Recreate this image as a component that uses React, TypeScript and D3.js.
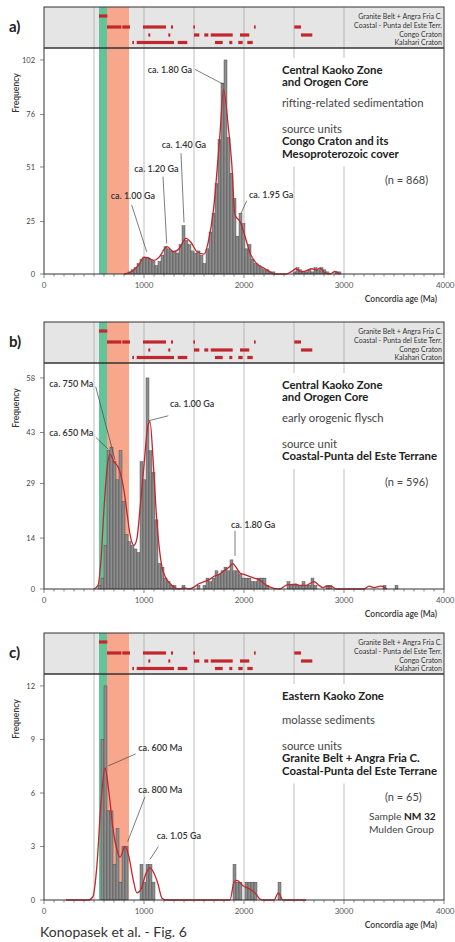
import * as d3 from "d3"

// ---- shared axis / header data ----
const BIN = 30
const ageTicks = [0, 1000, 2000, 3000, 4000]
const gridAges = [500, 1000, 1500, 2000, 2500, 3000]
const greenBand = [550, 630]
const salmonBand = [630, 850]

const unitNames = ["Granite Belt + Angra Fria C.", "Coastal - Punta del Este Terr.", "Congo Craton", "Kalahari Craton"]
const graniteAges = [[550, 633]]
const coastalAges = [[630, 773], [783, 860], [990, 1220], [1270, 1290], [1493, 1510], [2100, 2117], [2503, 2570]]
const congoAges = [[1043, 1063], [1243, 1263], [1500, 1553], [1603, 1643], [1667, 1887], [1960, 2053], [2570, 2683]]
const kalahariAges = [[883, 900], [927, 1300], [1337, 1433], [1710, 1787], [1853, 1883], [1943, 1987], [2033, 2087]]

// ---- panel a ----
const aTicks = [0, 25, 51, 76, 102]
const aStart = 840
const aCounts = [
  1, 2, 3, 5, 7, 8, 8, 7, 6, 4, 6, 9, 13, 12, 11, 11, 10, 14, 23, 16,
  14, 11, 10, 11, 9, 5, 12, 20, 29, 43, 64, 91, 102, 65, 48, 36, 18, 29, 24, 12,
  14, 7, 5, 4, 3, 2, 2, 1, 1, 0, 0, 0, 0, 0, 0, 1, 3, 2, 1, 1,
  2, 1, 3, 2, 3, 2, 1, 0, 0, 1, 1,
]
const aCurve = [
  [800, 0], [850, 0.5], [900, 2], [950, 4.5], [1000, 8], [1050, 7.5], [1100, 6.5], [1150, 8],
  [1230, 13], [1300, 10.5], [1350, 12], [1420, 17], [1470, 15], [1530, 10.6], [1600, 9.5],
  [1650, 17], [1693, 30], [1760, 67], [1795, 88], [1843, 70], [1877, 53], [1910, 28],
  [1960, 25], [2010, 18], [2060, 10], [2127, 5], [2193, 3], [2260, 1], [2310, 0],
  [2420, 0], [2470, 1], [2520, 2.5], [2570, 1], [2620, 1.5], [2680, 2.5], [2720, 2],
  [2760, 2.8], [2810, 0.5], [2860, 0], [2910, 1.2], [2960, 0],
]
const aNotes = [
  { text: "ca. 1.80 Ga", tx: 1037, ty: 96, a1: 1510, v1: 97.5, a2: 1790, v2: 90.5 },
  { text: "ca. 1.40 Ga", tx: 1177, ty: 60.2, a1: 1370, v1: 57.5, a2: 1400, v2: 24.5 },
  { text: "ca. 1.20 Ga", tx: 903, ty: 48.5, a1: 1190, v1: 46.4, a2: 1227, v2: 14.6 },
  { text: "ca. 1.00 Ga", tx: 667, ty: 35.7, a1: 877, v1: 32.9, a2: 1027, v2: 10.6 },
  { text: "ca. 1.95 Ga", tx: 2050, ty: 36.1, a1: 2027, v1: 34.9, a2: 1970, v2: 28.9 },
]

// ---- panel b ----
const bTicks = [0, 14, 29, 43, 58]
const bStart = 540
const bCounts = [
  1, 3, 12, 38, 39, 35, 30, 38, 24, 15, 13, 12, 11, 10, 35, 30, 58, 38, 32, 19,
  7, 6, 3, 2, 1, 1, 0, 0, 1, 0, 0, 0, 0, 1, 0, 1, 3, 2, 3, 5,
  4, 5, 6, 5, 8, 5, 5, 4, 3, 3, 3, 2, 2, 3, 3, 3, 1, 0, 0, 0,
  0, 0, 0, 2, 1, 1, 1, 1, 2, 1, 1, 3, 1, 0, 0, 0, 1, 1, 0, 0,
  0, 0, 0, 0, 0, 0, 0, 0, 0, 0, 0, 0, 0, 0, 0, 1, 0, 0, 0, 1,
]
const bCurve = [
  [500, 0], [540, 1], [570, 8], [600, 22], [630, 33], [660, 37], [700, 35], [750, 33],
  [800, 27], [830, 21], [860, 15], [900, 12], [930, 14], [960, 22], [1000, 34], [1040, 45],
  [1060, 46], [1090, 36], [1120, 22], [1150, 12], [1180, 6], [1220, 3], [1260, 1.5],
  [1300, 0.5], [1350, 0], [1400, 0.3], [1450, 0], [1500, 0.5], [1550, 1.5], [1600, 2],
  [1650, 2.5], [1700, 3.5], [1750, 4], [1800, 5], [1850, 6], [1890, 7], [1920, 6],
  [1960, 4.4], [2000, 4], [2060, 3.4], [2100, 3], [2160, 2.4], [2200, 1.5], [2240, 0.8],
  [2300, 0.2], [2360, 0], [2420, 1], [2460, 1.2], [2520, 1.3], [2560, 1], [2620, 1],
  [2660, 1.5], [2700, 2], [2750, 1], [2790, 0.4], [2830, 0.8], [2870, 0.8], [2920, 0],
  [3200, 0], [3250, 0.8], [3300, 0.4], [3370, 0.8], [3430, 0],
]
const bNotes = [
  { text: "ca. 750 Ma", tx: 53, ty: 55.4, a1: 517, v1: 55.6, a2: 710, v2: 35.5 },
  { text: "ca. 650 Ma", tx: 53, ty: 42.1, a1: 517, v1: 41.7, a2: 643, v2: 38.4 },
  { text: "ca. 1.00 Ga", tx: 1260, ty: 49.9, a1: 1243, v1: 47.6, a2: 1043, v2: 46.2 },
  { text: "ca. 1.80 Ga", tx: 1870, ty: 16.8, a1: 1910, v1: 16, a2: 1910, v2: 9.1 },
]

// ---- panel c ----
const cTicks = [0, 3, 6, 9, 12]
const cStart = 570
const cCounts = [
  9, 12, 5, 5, 2, 4, 1, 3, 3, 0, 0, 0, 0, 2, 1, 2, 2, 1, 0, 0,
  0, 0, 0, 0, 0, 0, 0, 0, 0, 0, 0, 0, 0, 0, 0, 0, 0, 0, 0, 0,
  0, 0, 0, 0, 2, 1, 1, 0, 1, 1, 1, 1, 0, 0, 0, 0, 0, 0, 0, 1,
]
const cCurve = [
  [220, 0], [450, 0], [490, 0.2], [530, 2], [570, 5.5], [610, 7.4], [650, 6], [690, 4],
  [730, 2.8], [760, 2.4], [810, 3], [850, 2.4], [890, 1.2], [930, 0.4], [970, 0.6],
  [1020, 1.5], [1060, 1.8], [1100, 1.5], [1140, 0.9], [1180, 0.1], [1220, 0], [1860, 0],
  [1900, 1], [1930, 1.1], [1990, 0.8], [2060, 0.6], [2110, 0.4], [2160, 0.05], [2200, 0],
  [2300, 0], [2343, 0.4], [2390, 0], [2620, 0],
]
const cNotes = [
  { text: "ca. 600 Ma", tx: 943, ty: 8.37, a1: 917, v1: 8.19, a2: 643, v2: 7.52 },
  { text: "ca. 800 Ma", tx: 943, ty: 6.02, a1: 1010, v1: 5.79, a2: 837, v2: 3.27 },
  { text: "ca. 1.05 Ga", tx: 1127, ty: 3.42, a1: 1143, v1: 2.99, a2: 1060, v2: 2.28 },
]

const FONT = "Lato, 'Open Sans', sans-serif"
const HEAD = 41
const PH = 267
const x = d3.scaleLinear().domain([0, 4000]).range([44, 444])

type Note = { text: string; tx: number; ty: number; a1: number; v1: number; a2: number; v2: number }

interface PanelProps {
  top: number
  letter: string
  yMax: number
  yTicks: number[]
  start: number
  counts: number[]
  curve: number[][]
  notes: Note[]
  title: string[]
  setting: string
  settingGap: number
  sourceLabel: string
  sources: string[]
  n: number
  extra?: boolean
}

function Panel(p: PanelProps) {
  const top = p.top
  const hb = top + HEAD
  const zero = top + PH
  const y = d3.scaleLinear().domain([0, p.yMax]).range([zero, hb])
  const line = d3
    .line<number[]>()
    .x((d) => x(d[0]))
    .y((d) => y(d[1]))
    .curve(d3.curveMonotoneX)
  const bars = p.counts.map((c, i) => ({ a: p.start + i * BIN, c })).filter((d) => d.c > 0)
  const rows = [graniteAges, coastalAges, congoAges, kalahariAges]
  const rowY = [9, 20, 28, 35.5]
  const labelY = [9.6, 18.6, 27.2, 35.8]

  // text block layout
  const t0 = hb + 26
  const titleY = p.title.map((_, i) => t0 + i * 12)
  const settingY = titleY[titleY.length - 1] + p.settingGap
  const srcLabelY = settingY + 25.5
  const srcY = p.sources.map((_, i) => srcLabelY + 12.5 + i * 12.5)
  const nY = srcY[srcY.length - 1] + 26

  return (
    <g>
      {/* header strip */}
      <rect x={x(0)} y={top} width={x(4000) - x(0)} height={HEAD} fill="#e5e5e5" />
      <rect x={x(greenBand[0])} y={top} width={x(greenBand[1]) - x(greenBand[0])} height={PH} fill="#63c49c" />
      <rect x={x(salmonBand[0])} y={top} width={x(salmonBand[1]) - x(salmonBand[0])} height={PH} fill="#f8a68c" />
      {gridAges.map((a) => (
        <line key={"h" + a} x1={x(a)} x2={x(a)} y1={top} y2={hb} stroke="#b8b8b8" strokeWidth={1} />
      ))}
      {gridAges.map((a) => (
        <line key={"g" + a} x1={x(a)} x2={x(a)} y1={hb} y2={zero} stroke="#d4d4d4" strokeWidth={1.5} />
      ))}
      {rows.map((r, i) =>
        r.map(([a0, a1]) => (
          <rect key={i + "-" + a0} x={x(a0)} y={top + rowY[i] - 1.6} width={x(a1) - x(a0)} height={3.2} fill="#c1272d" />
        )),
      )}
      {unitNames.map((name, i) => (
        <text key={name} x={442} y={top + labelY[i] + 2.4} textAnchor="end" fontSize={7} fill="#333">
          {name}
        </text>
      ))}

      {/* white box behind the description */}
      <rect x={279} y={t0 - 16} width={162} height={srcY[srcY.length - 1] + 9 - (t0 - 16)} fill="#fff" />

      {/* histogram */}
      {bars.map((d) => (
        <rect
          key={d.a}
          x={x(d.a)}
          width={x(d.a + BIN) - x(d.a)}
          y={y(d.c)}
          height={zero - y(d.c)}
          fill="#8d8d8d"
          stroke="#3c3c3c"
          strokeWidth={0.4}
        />
      ))}
      <path d={line(p.curve) || ""} fill="none" stroke="#c4262c" strokeWidth={1.3} />

      {/* frame */}
      <rect x={x(0)} y={top} width={x(4000) - x(0)} height={PH} fill="none" stroke="#333" strokeWidth={1} />
      <line x1={x(0)} x2={x(4000)} y1={hb} y2={hb} stroke="#333" strokeWidth={1.3} />

      {/* x axis ticks */}
      {x.ticks(40).map((a) => (
        <line key={"t" + a} x1={x(a)} x2={x(a)} y1={zero} y2={zero + (a % 1000 === 0 ? 4 : 2.5)} stroke="#555" strokeWidth={0.7} />
      ))}
      {ageTicks.map((a) => (
        <text
          key={"l" + a}
          x={a === 4000 ? 454.5 : x(a)}
          y={zero + 14}
          textAnchor={a === 4000 ? "end" : "middle"}
          fontSize={8}
          fill="#555"
        >
          {a}
        </text>
      ))}
      <text x={437} y={zero + 27.5} textAnchor="end" fontSize={8.5} fontWeight={600} fill="#333">
        Concordia age (Ma)
      </text>

      {/* y axis */}
      {p.yTicks.map((v) => (
        <g key={"y" + v}>
          <line x1={x(0) - 4} x2={x(0)} y1={y(v)} y2={y(v)} stroke="#555" strokeWidth={0.7} />
          <text x={35} y={y(v) + 2.6} textAnchor="end" fontSize={7.5} fill="#444">
            {v}
          </text>
        </g>
      ))}
      <text
        transform={`translate(19,${hb + 45}) rotate(-90)`}
        textAnchor="middle"
        fontSize={8.5}
        fontWeight={600}
        fill="#333"
      >
        Frequency
      </text>

      {/* peak labels */}
      {p.notes.map((nt) => (
        <g key={nt.text}>
          <line x1={x(nt.a1)} y1={y(nt.v1)} x2={x(nt.a2)} y2={y(nt.v2)} stroke="#444" strokeWidth={0.7} />
          <text x={x(nt.tx)} y={y(nt.ty)} fontSize={9} fontWeight={600} fill="#333">
            {nt.text}
          </text>
        </g>
      ))}

      {/* description */}
      {p.title.map((t, i) => (
        <text key={t} x={282} y={titleY[i]} fontSize={11.4} fontWeight={700} fill="#222">
          {t}
        </text>
      ))}
      <text x={282} y={settingY} fontSize={11.3} fill="#444">
        {p.setting}
      </text>
      <text x={282} y={srcLabelY} fontSize={11.3} fill="#444">
        {p.sourceLabel}
      </text>
      {p.sources.map((t, i) => (
        <text key={t} x={282} y={srcY[i]} fontSize={11.4} fontWeight={700} fill="#222">
          {t}
        </text>
      ))}
      <text x={385} y={nY} fontSize={11} fill="#444">
        (n = {p.n})
      </text>
      {p.extra && (
        <g>
          <text x={369} y={nY + 19.5} fontSize={10.2} fill="#444">
            Sample <tspan fontWeight={700} fill="#222">NM 32</tspan>
          </text>
          <text x={369} y={nY + 32} fontSize={10.2} fill="#444">
            Mulden Group
          </text>
        </g>
      )}

      {/* panel letter */}
      <text x={9} y={top + 25} fontSize={15} fontWeight={700} fill="#222">
        {p.letter}
      </text>
    </g>
  )
}

export default function App() {
  return (
    <svg
      width={455}
      height={942}
      style={{ position: "absolute", left: 0, top: 0, display: "block", background: "#fff" }}
      fontFamily={FONT}
    >
      <Panel
        top={7}
        letter="a)"
        yMax={107.7}
        yTicks={aTicks}
        start={aStart}
        counts={aCounts}
        curve={aCurve}
        notes={aNotes}
        title={["Central Kaoko Zone", "and Orogen Core"]}
        setting="rifting-related sedimentation"
        settingGap={21}
        sourceLabel="source units"
        sources={["Congo Craton and its", "Mesoproterozoic cover"]}
        n={868}
      />
      <Panel
        top={322}
        letter="b)"
        yMax={62.1}
        yTicks={bTicks}
        start={bStart}
        counts={bCounts}
        curve={bCurve}
        notes={bNotes}
        title={["Central Kaoko Zone", "and Orogen Core"]}
        setting="early orogenic flysch"
        settingGap={21}
        sourceLabel="source unit"
        sources={["Coastal-Punta del Este Terrane"]}
        n={596}
      />
      <Panel
        top={633}
        letter="c)"
        yMax={12.67}
        yTicks={cTicks}
        start={cStart}
        counts={cCounts}
        curve={cCurve}
        notes={cNotes}
        title={["Eastern Kaoko Zone"]}
        setting="molasse sediments"
        settingGap={24}
        sourceLabel="source units"
        sources={["Granite Belt + Angra Fria C.", "Coastal-Punta del Este Terrane"]}
        n={65}
        extra
      />
      <text x={40} y={937} fontSize={14} fill="#333">
        Konopasek et al. - Fig. 6
      </text>
    </svg>
  )
}
